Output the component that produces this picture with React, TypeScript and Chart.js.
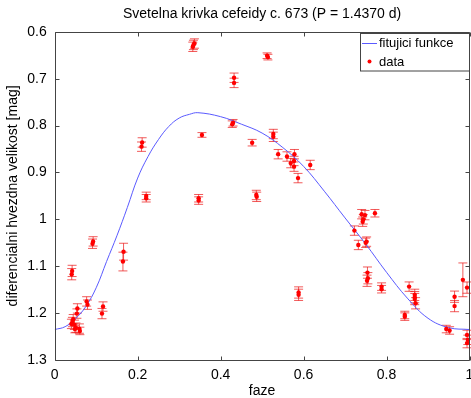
import React, { useEffect, useRef } from "react";
import { Chart, registerables } from "chart.js";

Chart.register(...registerables);

const TITLE = "Svetelna krivka cefeidy c. 673 (P = 1.4370 d)";
const X_LABEL = "faze";
const Y_LABEL = "diferencialni hvezdna velikost [mag]";
const LEGEND_LABELS = ["fitujici funkce", "data"];

const xTicks = [0, 0.2, 0.4, 0.6, 0.8, 1];
const yTicks = [0.6, 0.7, 0.8, 0.9, 1, 1.1, 1.2, 1.3];

// fitted curve
const curvePhase = [0, 0.025, 0.05, 0.075, 0.1, 0.125, 0.15, 0.175, 0.2, 0.225, 0.25, 0.275, 0.3, 0.325, 0.345, 0.4, 0.45, 0.5, 0.55, 0.6, 0.65, 0.7, 0.75, 0.8, 0.85, 0.9, 0.95, 1];
const curveMag = [1.235, 1.229, 1.212, 1.186, 1.146, 1.09, 1.035, 0.975, 0.912, 0.866, 0.83, 0.802, 0.784, 0.776, 0.7725, 0.781, 0.797, 0.816, 0.847, 0.887, 0.94, 0.997, 1.053, 1.113, 1.168, 1.211, 1.231, 1.235];

// observed data
const dataPhase = [
  0.042, 0.041, 0.0547, 0.0535, 0.0446, 0.0427, 0.0403, 0.0475, 0.0511, 0.0487,
  0.0595, 0.0607, 0.077, 0.079, 0.0926, 0.0912, 0.1165, 0.114, 0.166, 0.1645,
  0.2108, 0.2093, 0.2206, 0.2206, 0.3345, 0.3369, 0.3329, 0.347, 0.347, 0.355,
  0.428, 0.43, 0.4324, 0.4324, 0.476, 0.486, 0.487, 0.512, 0.514, 0.527,
  0.527, 0.5387, 0.56, 0.578, 0.569, 0.577, 0.577, 0.5866, 0.616, 0.588,
  0.588, 0.7225, 0.732, 0.74, 0.748, 0.744, 0.7425, 0.772, 0.752, 0.7497,
  0.754, 0.755, 0.753, 0.788, 0.788, 0.8544, 0.868, 0.868, 0.87, 0.868,
  0.844, 0.844, 0.964, 0.964, 0.984, 0.994, 0.944, 0.952, 0.994, 0.996, 0.994,
];
const dataMag = [
  1.11, 1.117, 1.19, 1.201, 1.213, 1.219, 1.223, 1.225, 1.231, 1.234,
  1.233, 1.238, 1.175, 1.182, 1.047, 1.052, 1.186, 1.201, 1.069, 1.09,
  0.836, 0.845, 0.95, 0.955, 0.628, 0.625, 0.632, 0.955, 0.96, 0.82,
  0.797, 0.794, 0.698, 0.709, 0.8365, 0.948, 0.952, 0.651, 0.654, 0.818,
  0.824, 0.861, 0.866, 0.861, 0.88, 0.8755, 0.8876, 0.912, 0.884, 1.156,
  1.161, 1.024, 1.0546, 0.989, 0.991, 1.0, 1.005, 0.987, 1.0475, 1.05,
  1.1136, 1.1256, 1.131, 1.1435, 1.149, 1.1435, 1.161, 1.17, 1.179, 1.166,
  1.204, 1.2075, 1.165, 1.185, 1.129, 1.1456, 1.234, 1.237, 1.2465, 1.257, 1.264,
];
const dataErr = [
  0.012, 0.012, 0.01, 0.01, 0.01, 0.01, 0.01, 0.01, 0.01, 0.008,
  0.01, 0.008, 0.01, 0.01, 0.01, 0.01, 0.01, 0.011, 0.018, 0.02,
  0.01, 0.01, 0.008, 0.008, 0.01, 0.01, 0.01, 0.008, 0.008, 0.005,
  0.007, 0.007, 0.01, 0.01, 0.007, 0.01, 0.01, 0.006, 0.006, 0.01,
  0.01, 0.01, 0.01, 0.01, 0.01, 0.01, 0.01, 0.01, 0.01, 0.012,
  0.012, 0.01, 0.01, 0.01, 0.01, 0.01, 0.01, 0.008, 0.01, 0.01,
  0.012, 0.012, 0.012, 0.008, 0.008, 0.01, 0.012, 0.012, 0.012, 0.012,
  0.008, 0.008, 0.012, 0.012, 0.036, 0.012, 0.008, 0.008, 0.01, 0.01, 0.01,
];

const FONT = '"Liberation Sans", Arial, Helvetica, sans-serif';
const AXIS_COLOR = "#444444";
const LINE_COLOR = "#5a5aff";
const DOT_COLOR = "#ff0000";
const ERR_COLOR = "rgba(235,20,20,0.7)";

export default function App() {
  const ref = useRef<HTMLCanvasElement>(null);

  useEffect(() => {
    if (!ref.current) return;

    const errorBars = {
      id: "errorBars",
      beforeDatasetsDraw(chart: any) {
        const { ctx, scales } = chart;
        const xs = scales.x, ys = scales.y;
        ctx.save();
        ctx.strokeStyle = ERR_COLOR;
        ctx.lineWidth = 1;
        ctx.beginPath();
        for (let i = 0; i < dataPhase.length; i++) {
          const px = xs.getPixelForValue(dataPhase[i]);
          const y1 = ys.getPixelForValue(dataMag[i] - dataErr[i]);
          const y2 = ys.getPixelForValue(dataMag[i] + dataErr[i]);
          ctx.moveTo(px, y1);
          ctx.lineTo(px, y2);
          ctx.moveTo(px - 4.5, y1);
          ctx.lineTo(px + 4.5, y1);
          ctx.moveTo(px - 4.5, y2);
          ctx.lineTo(px + 4.5, y2);
        }
        ctx.stroke();
        ctx.restore();
      },
    };

    const frame = {
      id: "frame",
      afterDraw(chart: any) {
        const { ctx, chartArea: a, scales } = chart;
        const L = Math.round(a.left) + 0.5;
        const R = Math.round(a.right) - 0.5;
        const T = Math.round(a.top) + 0.5;
        const B = Math.round(a.bottom) + 0.5;
        ctx.save();
        ctx.strokeStyle = AXIS_COLOR;
        ctx.lineWidth = 1;
        ctx.beginPath();
        ctx.moveTo(L, T); ctx.lineTo(R, T); ctx.lineTo(R, B); ctx.lineTo(L, B); ctx.closePath();
        const tl = 4;
        for (const v of xTicks) {
          const px = Math.round(scales.x.getPixelForValue(v)) + 0.5;
          ctx.moveTo(px, B); ctx.lineTo(px, B - tl);
          ctx.moveTo(px, T); ctx.lineTo(px, T + tl);
        }
        for (const v of yTicks) {
          const py = Math.round(scales.y.getPixelForValue(v)) + 0.5;
          ctx.moveTo(L, py); ctx.lineTo(L + tl, py);
          ctx.moveTo(R, py); ctx.lineTo(R - tl, py);
        }
        ctx.stroke();

        // title
        ctx.fillStyle = "#000";
        ctx.font = `14px ${FONT}`;
        ctx.textAlign = "center";
        ctx.textBaseline = "middle";
        ctx.fillText(TITLE, (a.left + a.right) / 2, 14);

        // legend
        ctx.font = `13px ${FONT}`;
        const bx = 360.5, by = 33.5, bw = 109, bh = 37.5;
        ctx.fillStyle = "#fff";
        ctx.fillRect(bx, by, bw, bh);
        ctx.strokeStyle = AXIS_COLOR;
        ctx.strokeRect(bx, by, bw, bh);
        ctx.strokeStyle = LINE_COLOR;
        ctx.beginPath();
        ctx.moveTo(362, 43.5); ctx.lineTo(377, 43.5);
        ctx.stroke();
        ctx.fillStyle = DOT_COLOR;
        ctx.beginPath();
        ctx.arc(369.5, 61.5, 2, 0, Math.PI * 2);
        ctx.fill();
        ctx.fillStyle = "#000";
        ctx.textAlign = "left";
        ctx.fillText(LEGEND_LABELS[0], 379, 43.5);
        ctx.fillText(LEGEND_LABELS[1], 379, 62.5);
        ctx.restore();
      },
    };

    const chart = new Chart(ref.current, {
      type: "scatter",
      data: {
        datasets: [
          {
            type: "line",
            label: LEGEND_LABELS[0],
            data: curvePhase.map((x, i) => ({ x, y: curveMag[i] })),
            borderColor: LINE_COLOR,
            borderWidth: 1,
            pointRadius: 0,
            tension: 0.4,
            fill: false,
            order: 1,
          },
          {
            type: "scatter",
            label: LEGEND_LABELS[1],
            data: dataPhase.map((x, i) => ({ x, y: dataMag[i] })),
            backgroundColor: DOT_COLOR,
            borderColor: DOT_COLOR,
            borderWidth: 0,
            pointRadius: 2.2,
            order: 0,
          },
        ],
      } as any,
      plugins: [errorBars, frame],
      options: {
        animation: false,
        responsive: false,
        devicePixelRatio: 1,
        layout: { padding: { top: 31.8, right: 8.3, bottom: 0, left: 0 } },
        plugins: {
          legend: { display: false },
          title: { display: false },
          tooltip: { enabled: false },
        },
        scales: {
          x: {
            type: "linear",
            min: 0,
            max: 1,
            grid: { display: false, drawTicks: false },
            border: { display: false },
            afterFit: (s: any) => { s.height = 38; },
            afterBuildTicks: (s: any) => { s.ticks = xTicks.map((v) => ({ value: v })); },
            ticks: {
              color: "#000",
              padding: 6.6,
              font: { family: FONT, size: 14 },
              maxRotation: 0,
              autoSkip: false,
              callback: (v: any) => String(Number(Number(v).toFixed(1))),
            },
            title: {
              display: true,
              text: X_LABEL,
              color: "#000",
              font: { family: FONT, size: 14, lineHeight: 1 },
              padding: { top: 0, bottom: 0 },
            },
          },
          y: {
            type: "linear",
            min: 0.6,
            max: 1.3,
            reverse: true,
            grid: { display: false, drawTicks: false },
            border: { display: false },
            afterFit: (s: any) => { s.width = 54.7; },
            afterBuildTicks: (s: any) => { s.ticks = yTicks.map((v) => ({ value: v })); },
            ticks: {
              color: "#000",
              padding: 8,
              font: { family: FONT, size: 14 },
              autoSkip: false,
              callback: (v: any) => String(Number(Number(v).toFixed(1))),
            },
            title: {
              display: true,
              text: Y_LABEL,
              color: "#000",
              font: { family: FONT, size: 14, lineHeight: 1 },
              padding: { top: 6.5, bottom: 0 },
            },
          },
        },
      } as any,
    });
    return () => chart.destroy();
  }, []);

  return (
    <div style={{ position: "fixed", left: 0, top: 0, width: 480, height: 398, background: "#fff" }}>
      <canvas ref={ref} width={480} height={398} style={{ display: "block" }} />
    </div>
  );
}
